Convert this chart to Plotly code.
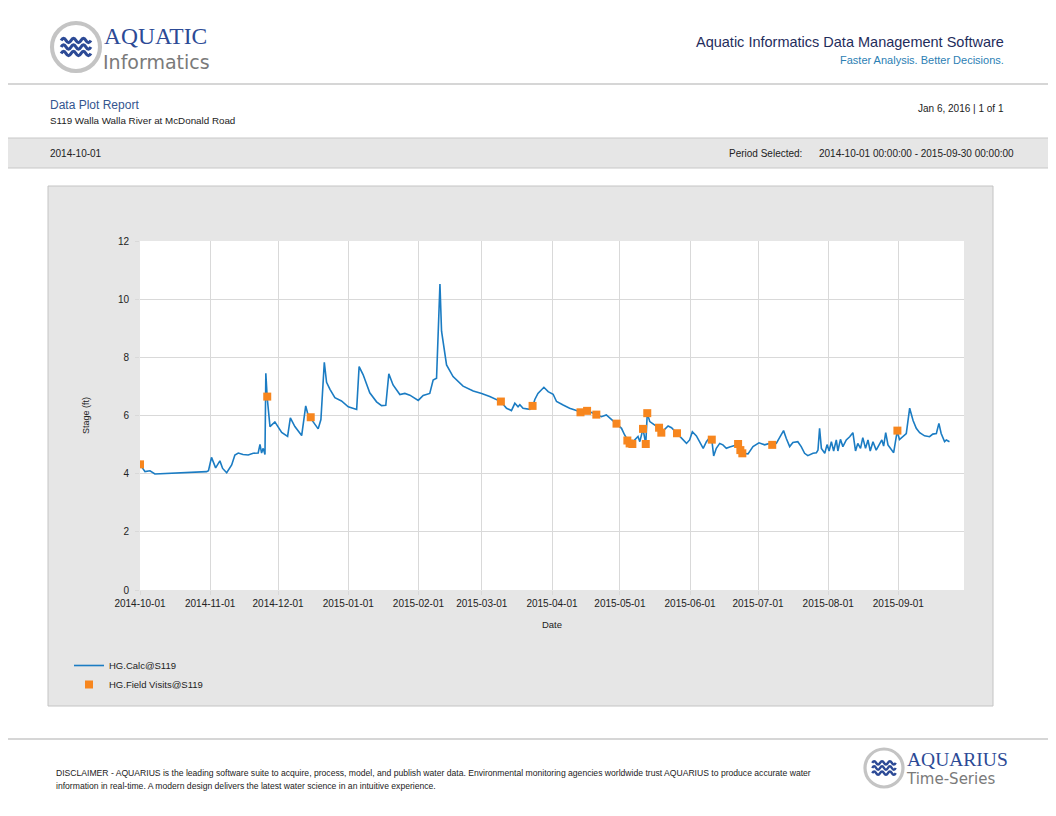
import plotly.graph_objects as go

# the page has an 8px body margin, so the figure is sized to fit inside the window
W, H = 1040, 800
OFF = 8

# HG.Calc@S119 stage record
calc_time = [
    "2014-10-01 00:00", "2014-10-02 06:00", "2014-10-03 05:00", "2014-10-05 10:00", "2014-10-07 14:00",
    "2014-10-30 10:00", "2014-10-31 06:00", "2014-11-01 14:00", "2014-11-03 10:00", "2014-11-05 07:00",
    "2014-11-06 12:00", "2014-11-08 07:00", "2014-11-10 12:00", "2014-11-11 22:00", "2014-11-13 10:00",
    "2014-11-15 12:00", "2014-11-17 19:00", "2014-11-20 00:00", "2014-11-22 05:00", "2014-11-23 00:00",
    "2014-11-23 17:00", "2014-11-24 10:00", "2014-11-25 05:00", "2014-11-25 14:00", "2014-11-26 05:00",
    "2014-11-27 10:00", "2014-11-29 14:00", "2014-12-02 14:00", "2014-12-05 05:00", "2014-12-06 10:00",
    "2014-12-08 10:00", "2014-12-11 10:00", "2014-12-13 05:00", "2014-12-14 07:00", "2014-12-15 10:00",
    "2014-12-18 17:00", "2014-12-19 22:00", "2014-12-21 10:00", "2014-12-22 10:00", "2014-12-23 22:00",
    "2014-12-26 02:00", "2014-12-29 00:00", "2015-01-01 00:00", "2015-01-04 17:00", "2015-01-05 19:00",
    "2015-01-07 14:00", "2015-01-10 12:00", "2015-01-13 12:00", "2015-01-15 17:00", "2015-01-17 14:00",
    "2015-01-18 22:00", "2015-01-20 19:00", "2015-01-23 19:00", "2015-01-26 00:00", "2015-01-28 05:00",
    "2015-01-31 22:00", "2015-02-03 02:00", "2015-02-06 00:00", "2015-02-07 12:00", "2015-02-09 00:00",
    "2015-02-10 12:00", "2015-02-11 05:00", "2015-02-12 05:00", "2015-02-13 10:00", "2015-02-16 07:00",
    "2015-02-20 17:00", "2015-02-25 05:00", "2015-02-28 22:00", "2015-03-04 12:00", "2015-03-09 10:00",
    "2015-03-11 22:00", "2015-03-14 02:00", "2015-03-15 14:00", "2015-03-17 00:00", "2015-03-17 19:00",
    "2015-03-19 05:00", "2015-03-22 05:00", "2015-03-23 10:00", "2015-03-24 10:00", "2015-03-25 19:00",
    "2015-03-28 10:00", "2015-03-30 07:00", "2015-04-01 12:00", "2015-04-03 00:00", "2015-04-05 22:00",
    "2015-04-08 19:00", "2015-04-11 19:00", "2015-04-13 14:00", "2015-04-16 12:00", "2015-04-18 12:00",
    "2015-04-20 14:00", "2015-04-22 19:00", "2015-04-25 00:00", "2015-04-27 05:00", "2015-04-29 12:00",
    "2015-05-01 17:00", "2015-05-03 02:00", "2015-05-04 07:00", "2015-05-05 07:00", "2015-05-06 12:00",
    "2015-05-07 12:00", "2015-05-09 00:00", "2015-05-09 19:00", "2015-05-11 05:00", "2015-05-12 10:00",
    "2015-05-13 02:00", "2015-05-14 05:00", "2015-05-16 10:00", "2015-05-18 07:00", "2015-05-19 07:00",
    "2015-05-20 19:00", "2015-05-22 07:00", "2015-05-23 19:00", "2015-05-26 05:00", "2015-05-27 10:00",
    "2015-05-28 22:00", "2015-05-30 10:00", "2015-05-31 19:00", "2015-06-02 00:00", "2015-06-03 19:00",
    "2015-06-05 07:00", "2015-06-06 19:00", "2015-06-08 05:00", "2015-06-09 17:00", "2015-06-10 14:00",
    "2015-06-11 10:00", "2015-06-12 14:00", "2015-06-14 02:00", "2015-06-15 12:00", "2015-06-17 00:00",
    "2015-06-18 12:00", "2015-06-22 05:00", "2015-06-23 05:00", "2015-06-24 02:00", "2015-06-26 14:00",
    "2015-06-28 19:00", "2015-07-01 10:00", "2015-07-03 22:00", "2015-07-06 02:00", "2015-07-07 07:00",
    "2015-07-09 02:00", "2015-07-10 14:00", "2015-07-12 07:00", "2015-07-13 12:00", "2015-07-15 00:00",
    "2015-07-16 10:00", "2015-07-18 14:00", "2015-07-20 02:00", "2015-07-21 14:00", "2015-07-23 00:00",
    "2015-07-25 07:00", "2015-07-26 19:00", "2015-07-27 12:00", "2015-07-28 05:00", "2015-07-29 00:00",
    "2015-07-30 12:00", "2015-07-31 12:00", "2015-08-01 10:00", "2015-08-02 10:00", "2015-08-03 10:00",
    "2015-08-04 14:00", "2015-08-05 07:00", "2015-08-06 10:00", "2015-08-07 12:00", "2015-08-09 00:00",
    "2015-08-10 12:00", "2015-08-11 22:00", "2015-08-13 02:00", "2015-08-14 02:00", "2015-08-15 07:00",
    "2015-08-16 07:00", "2015-08-17 12:00", "2015-08-18 14:00", "2015-08-19 14:00", "2015-08-20 19:00",
    "2015-08-22 05:00", "2015-08-23 17:00", "2015-08-24 17:00", "2015-08-25 12:00", "2015-08-26 10:00",
    "2015-08-27 10:00", "2015-08-28 22:00", "2015-08-29 22:00", "2015-08-31 02:00", "2015-08-31 14:00",
    "2015-09-01 12:00", "2015-09-03 00:00", "2015-09-04 12:00", "2015-09-06 00:00", "2015-09-07 12:00",
    "2015-09-08 22:00", "2015-09-10 10:00", "2015-09-12 14:00", "2015-09-14 19:00", "2015-09-16 05:00",
    "2015-09-17 19:00", "2015-09-18 22:00", "2015-09-19 22:00", "2015-09-21 10:00", "2015-09-22 05:00",
    "2015-09-23 14:00",
]
calc_stage = [
    4.32, 4.18, 4.07, 4.10, 3.99,
    4.07, 4.10, 4.56, 4.20, 4.44,
    4.18, 4.03, 4.30, 4.64, 4.71,
    4.66, 4.64, 4.70, 4.71, 5.01,
    4.71, 4.87, 4.66, 7.45, 6.60,
    5.62, 5.78, 5.42, 5.28, 5.92,
    5.62, 5.31, 6.33, 6.00, 5.90,
    5.54, 5.86, 7.83, 7.14, 6.90,
    6.61, 6.50, 6.30, 6.21, 7.68,
    7.40, 6.78, 6.47, 6.34, 6.35,
    7.43, 7.05, 6.72, 6.76, 6.70,
    6.52, 6.69, 6.76, 7.22, 7.28,
    10.52, 8.90, 8.30, 7.74, 7.34,
    7.01, 6.84, 6.76, 6.65, 6.48,
    6.25, 6.17, 6.42, 6.30, 6.37,
    6.25, 6.21, 6.30, 6.55, 6.76,
    6.97, 6.82, 6.73, 6.48, 6.36,
    6.25, 6.17, 6.11, 6.14, 6.10,
    6.03, 5.96, 6.02, 5.87, 5.72,
    5.56, 5.33, 5.14, 5.04, 5.04,
    5.16, 5.28, 5.10, 5.54, 5.02,
    6.08, 5.79, 5.67, 5.58, 5.41,
    5.53, 5.64, 5.58, 5.39, 5.28,
    5.16, 5.04, 5.16, 5.44, 5.30,
    5.10, 4.87, 5.10, 5.25, 5.17,
    4.61, 4.87, 5.04, 4.99, 4.87,
    4.92, 5.00, 4.81, 4.70, 4.68,
    4.93, 5.06, 4.99, 5.04, 4.99,
    5.04, 5.27, 5.48, 5.21, 4.93,
    5.07, 5.10, 4.93, 4.70, 4.62,
    4.70, 4.72, 4.81, 5.56, 4.87,
    4.70, 5.00, 4.78, 5.10, 4.78,
    5.16, 4.78, 5.18, 4.93, 5.16,
    5.27, 5.41, 4.78, 5.04, 4.87,
    5.24, 4.87, 5.16, 4.78, 5.10,
    4.81, 5.04, 5.16, 4.95, 5.41,
    4.99, 4.81, 4.72, 5.27, 5.45,
    5.17, 5.27, 5.38, 6.25, 5.83,
    5.56, 5.41, 5.30, 5.27, 5.36,
    5.38, 5.73, 5.38, 5.10, 5.16,
    5.10,
]

# HG.Field Visits@S119
visit_time = [
    "2014-10-01 00:00", "2014-11-26 05:00", "2014-12-15 10:00", "2015-03-09 10:00", "2015-03-23 10:00",
    "2015-04-13 14:00", "2015-04-16 12:00", "2015-04-20 14:00", "2015-04-29 12:00", "2015-05-04 07:00",
    "2015-05-05 07:00", "2015-05-06 12:00", "2015-05-11 05:00", "2015-05-12 10:00", "2015-05-13 02:00",
    "2015-05-18 07:00", "2015-05-19 07:00", "2015-05-26 05:00", "2015-06-10 14:00", "2015-06-22 05:00",
    "2015-06-23 05:00", "2015-06-24 02:00", "2015-07-07 07:00", "2015-08-31 14:00",
]
visit_stage = [
    4.32, 6.65, 5.94, 6.48, 6.33,
    6.11, 6.16, 6.03, 5.72, 5.14,
    5.04, 5.02, 5.54, 5.02, 6.08,
    5.58, 5.41, 5.39, 5.17, 5.02,
    4.81, 4.70, 4.99, 5.48,
]

FONT = "Liberation Sans, Arial, sans-serif"
GRID = "#d9d9d9"
NAVY = "#2c4a96"


# page pixels (as on the printed report) -> paper fractions
def px(x):
    return (x - OFF) / W


def py(y):
    return 1 - (y - OFF) / H


def text(x, y, s, size, color="#222222", anchor="left", family=FONT):
    return dict(x=px(x), y=py(y), xref="paper", yref="paper", text=s, showarrow=False,
                xanchor=anchor, yanchor="middle", font=dict(size=size, color=color, family=family))


def rect(x0, y0, x1, y1, fill, line=None):
    return dict(type="rect", xref="paper", yref="paper", layer="below",
                x0=px(x0), x1=px(x1), y0=py(y1), y1=py(y0), fillcolor=fill,
                line=dict(color=line or fill, width=1 if line else 0))


def hline(y):
    return dict(type="line", xref="paper", yref="paper", x0=px(0), x1=px(1056), y0=py(y), y1=py(y),
                line=dict(color="#c8c8c8", width=1.5), layer="below")


def logo(cx, cy, r):
    # grey ring with three blue waves
    out = [dict(type="circle", xref="paper", yref="paper", layer="above",
                x0=px(cx - r), x1=px(cx + r), y0=py(cy + r), y1=py(cy - r),
                fillcolor="white", line=dict(color="#c4c4c4", width=r * 0.17))]
    half = r * 0.62
    amp = r * 0.09
    n = 3
    for dy in (-r * 0.27, 0, r * 0.27):
        y = cy + dy
        step = 2 * half / (2 * n)
        x0 = cx - half
        d = f"M{px(x0)},{py(y)} Q{px(x0 + step / 2)},{py(y - 2 * amp)} {px(x0 + step)},{py(y)}"
        for k in range(2, 2 * n + 1):
            d += f" T{px(x0 + k * step)},{py(y)}"
        out.append(dict(type="path", path=d, xref="paper", yref="paper", layer="above",
                        line=dict(color=NAVY, width=r * 0.13)))
    return out


fig = go.Figure()

fig.add_trace(go.Scatter(
    x=calc_time, y=calc_stage, mode="lines", name="HG.Calc@S119",
    line=dict(color="#1b7cc3", width=1.6),
))
fig.add_trace(go.Scatter(
    x=visit_time, y=visit_stage, mode="markers", name="HG.Field Visits@S119",
    marker=dict(symbol="square", size=8, color="#f7861e", line=dict(width=0)),
))

shapes = [
    hline(84),
    rect(-5, 138, 1061, 168, "#e6e6e6", "#c8c8c8"),
    rect(48, 186, 993, 706, "#e6e6e6", "#c4c4c4"),
    rect(140, 241, 964, 590, "white"),
    hline(739),
]
shapes += logo(76, 47, 24)
shapes += logo(884, 768, 19)

annotations = [
    text(102, 35.5, "AQUATIC", 23.5, NAVY, family="Liberation Serif, serif"),
    text(101, 61.5, "Informatics", 19, "#7a7a7a", family="DejaVu Sans, sans-serif"),
    text(1006, 42, "Aquatic Informatics Data Management Software", 14.5, "#1f2d5c", "right"),
    text(1006, 60, "Faster Analysis. Better Decisions.", 11, "#2b80b4", "right"),
    text(48, 105, "Data Plot Report", 12, "#34558f"),
    text(48, 120, "S119 Walla Walla River at McDonald Road", 9.8),
    text(1006, 108, "Jan 6, 2016 | 1 of 1", 10, anchor="right"),
    text(48, 153, "2014-10-01", 10),
    text(727, 153, "Period Selected:", 10),
    text(1016, 153, "2014-10-01 00:00:00 - 2015-09-30 00:00:00", 10, anchor="right"),
    text(54, 773, "DISCLAIMER - AQUARIUS is the leading software suite to acquire, process, model, and publish "
                  "water data. Environmental monitoring agencies worldwide trust AQUARIUS to produce accurate water",
         8.6),
    text(54, 786, "information in real-time. A modern design delivers the latest water science in an "
                  "intuitive experience.", 8.6),
    text(905, 759.5, "AQUARIUS", 19.5, NAVY, family="Liberation Serif, serif"),
    text(904, 778.5, "Time-Series", 15, "#7a7a7a", family="DejaVu Sans, sans-serif"),
]

fig.update_layout(
    width=W, height=H,
    margin=dict(l=0, r=0, t=0, b=0, autoexpand=False),
    paper_bgcolor="white",
    plot_bgcolor="white",
    font=dict(family=FONT, size=10, color="#222222"),
    shapes=shapes,
    annotations=annotations,
    showlegend=True,
    legend=dict(x=px(69), y=py(651), xanchor="left", yanchor="top",
                bgcolor="rgba(0,0,0,0)", font=dict(size=9.5, color="#222222"),
                itemwidth=30, tracegroupgap=0),
    xaxis=dict(
        domain=[px(140), px(964)],
        type="date",
        range=["2014-10-01", "2015-09-30"],
        tick0="2014-10-01", dtick="M1", tickformat="%Y-%m-%d",
        showgrid=True, gridcolor=GRID, gridwidth=1,
        ticks="outside", ticklen=4, tickcolor=GRID,
        showline=False, zeroline=False, automargin=False,
        tickfont=dict(size=10, color="#222222"),
        title=dict(text="Date", font=dict(size=9.5), standoff=13),
    ),
    yaxis=dict(
        domain=[py(590), py(241)],
        range=[0, 12], dtick=2,
        showgrid=True, gridcolor=GRID, gridwidth=1,
        ticks="outside", ticklen=4, tickcolor=GRID,
        showline=False, zeroline=False, automargin=False,
        ticklabelstandoff=4,
        tickfont=dict(size=10, color="#222222"),
        title=dict(text="Stage (ft)", font=dict(size=9), standoff=26),
    ),
)

fig.write_html("out.html")
